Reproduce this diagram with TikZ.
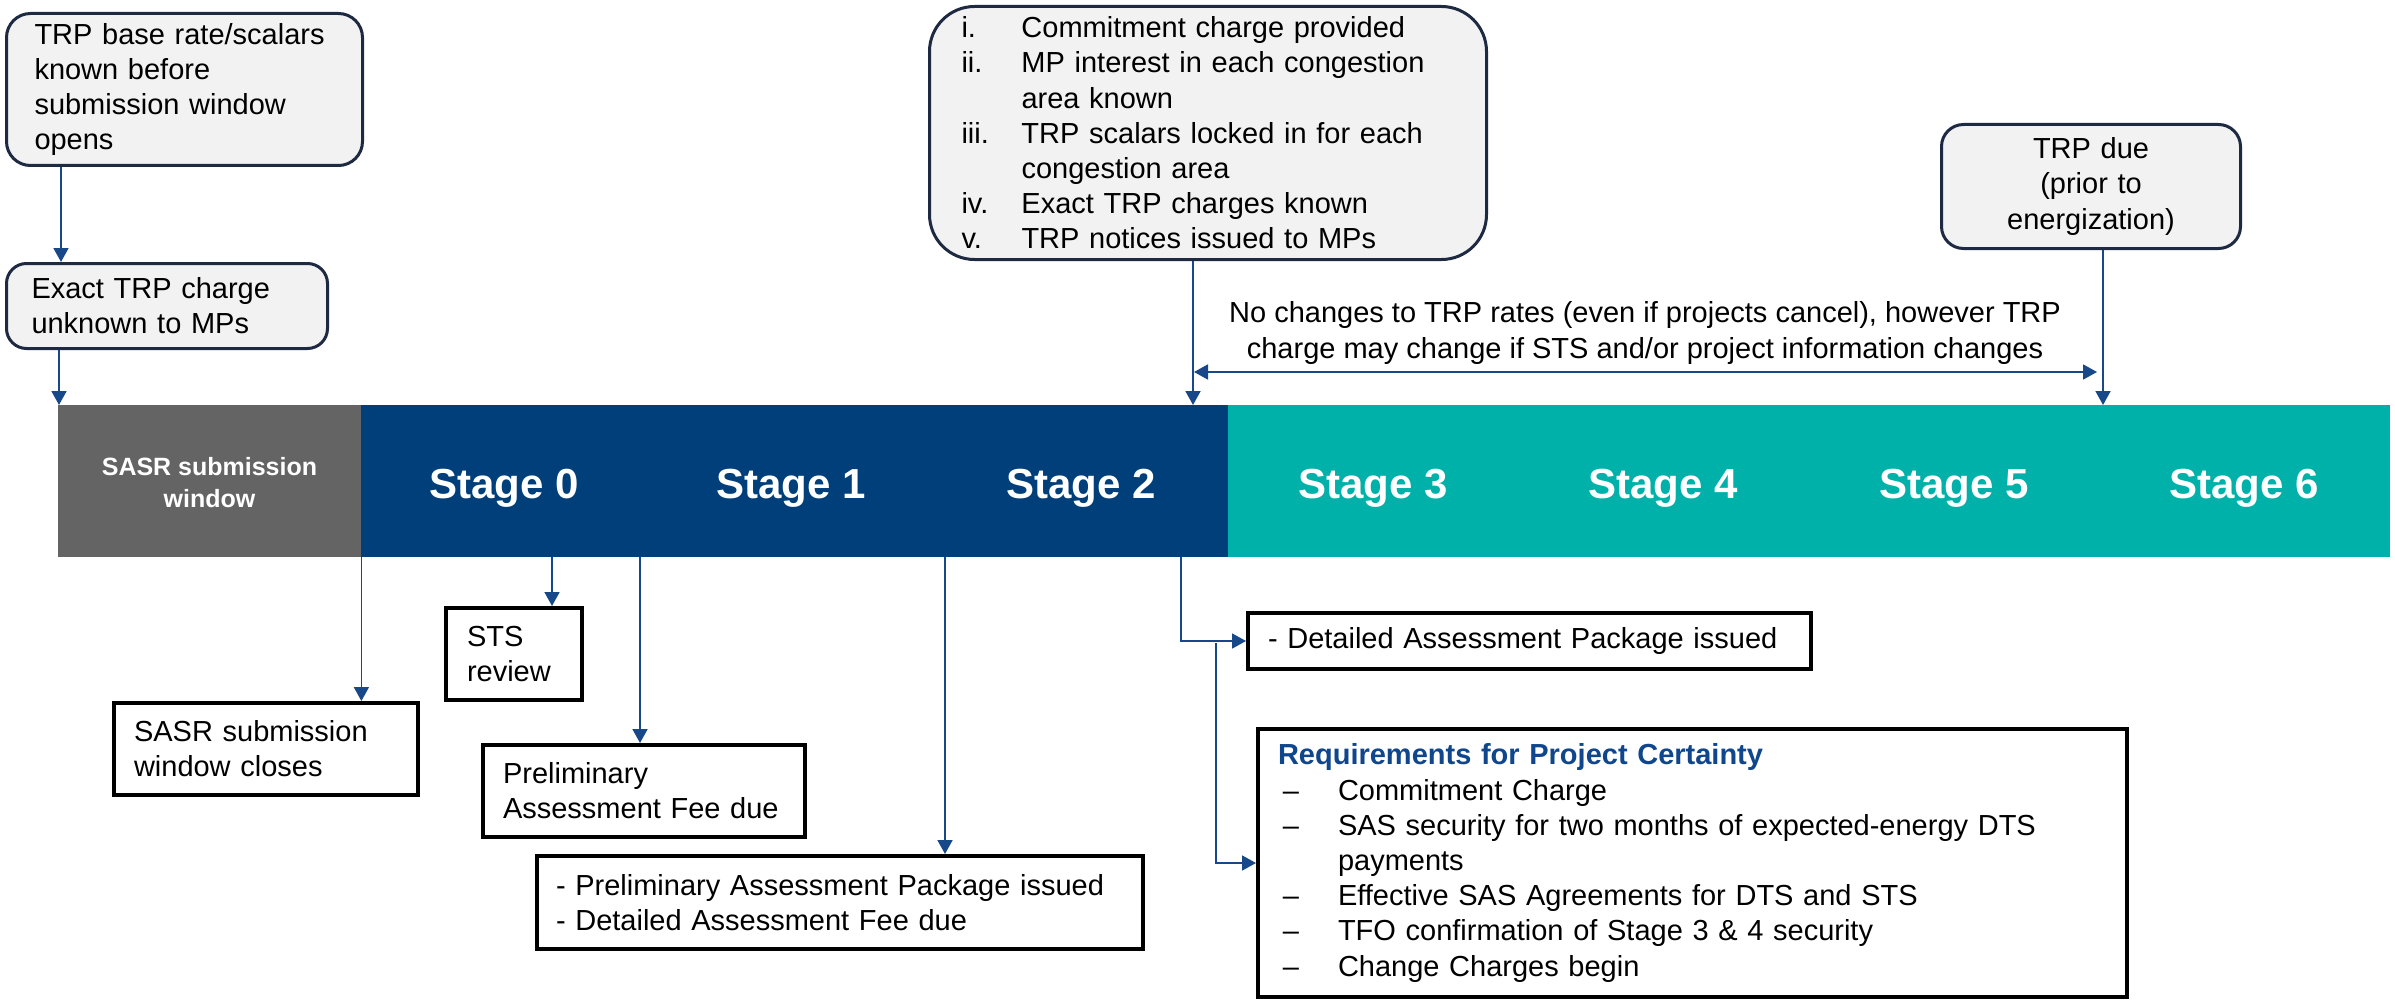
\documentclass[tikz,border=0pt]{standalone}
\usepackage{fontspec}
\setmainfont{Liberation Sans}
\usetikzlibrary{arrows.meta}

\definecolor{linkblue}{RGB}{22,72,138}
\definecolor{barblue}{RGB}{0,63,122}
\definecolor{barteal}{RGB}{0,177,170}
\definecolor{bargray}{RGB}{100,100,100}
\definecolor{notefill}{RGB}{242,242,242}
\definecolor{noteedge}{RGB}{30,42,66}
\definecolor{headblue}{RGB}{16,70,140}

\newcommand\bodysize{\fontsize{29}{35.2}\selectfont}
\newcommand\itemgap{\makebox[60pt]{}}

\tikzset{
  conn/.style={draw=linkblue, line width=1.8pt, -{Triangle[width=15pt,length=14pt]}},
  twoway/.style={draw=linkblue, line width=1.8pt,
    {Triangle[width=15pt,length=14pt]}-{Triangle[width=15pt,length=14pt]}},
  note/.style={draw=noteedge, fill=notefill, line width=3pt, rounded corners=24pt,
    font=\bodysize, inner ysep=0pt, anchor=north west},
  event/.style={draw=black, fill=white, line width=4pt, font=\bodysize,
    inner ysep=0pt, align=left, anchor=north west},
  stagebar/.style={inner sep=0pt, draw=none, anchor=north west, minimum height=152pt},
  stagelabel/.style={text=white, font=\fontsize{42}{50}\selectfont\bfseries, anchor=base},
}

\begin{document}
\begin{tikzpicture}[x=1pt,y=-1pt]
\useasboundingbox (0,0) rectangle (2395,1003);

% ---- stage bar ----
\node[stagebar, fill=bargray, minimum width=303pt] (sasr) at (58,405) {};
\node[stagebar, fill=barblue, minimum width=867pt] (early) at (361,405) {};
\node[stagebar, fill=barteal, minimum width=1162pt] (late) at (1228,405) {};

\node[text=white, font=\fontsize{25}{32}\selectfont\bfseries, align=center]
  (sasrlabel) at (209.5,483) {SASR submission\\window};
\node[stagelabel] (s0) at (504,498) {Stage 0};
\node[stagelabel] (s1) at (791,498) {Stage 1};
\node[stagelabel] (s2) at (1081,498) {Stage 2};
\node[stagelabel] (s3) at (1373,498) {Stage 3};
\node[stagelabel] (s4) at (1663,498) {Stage 4};
\node[stagelabel] (s5) at (1954,498) {Stage 5};
\node[stagelabel] (s6) at (2244,498) {Stage 6};

% ---- notes above the bar ----
\node[note, minimum width=356pt, minimum height=152pt, text width=300pt,
  inner xsep=28pt, align=left] (known) at (5,12)
  {TRP base rate/scalars\\known before\\submission window\\opens};
\node[note, minimum width=321pt, minimum height=85pt, text width=271pt,
  inner xsep=25pt, align=left, rounded corners=20pt] (unknown) at (5,262)
  {Exact TRP charge\\unknown to MPs};
\node[note, minimum width=557pt, minimum height=253pt, text width=493pt,
  inner xsep=32pt, align=left, rounded corners=45pt] (list) at (928,5)
  {\makebox[60pt][l]{i.}Commitment charge provided\\
   \makebox[60pt][l]{ii.}MP interest in each congestion\\
   \itemgap area known\\
   \makebox[60pt][l]{iii.}TRP scalars locked in for each\\
   \itemgap congestion area\\
   \makebox[60pt][l]{iv.}Exact TRP charges known\\
   \makebox[60pt][l]{v.}TRP notices issued to MPs};
\node[note, minimum width=299pt, minimum height=124pt, text width=259pt,
  inner xsep=20pt, align=center, rounded corners=22pt] (due) at (1940,123)
  {TRP due\\(prior to\\energization)};

\node[font=\bodysize, align=center] (span) at (1645,333)
  {No changes to TRP rates (even if projects cancel), however TRP\\
   charge may change if STS and/or project information changes};

% ---- events below the bar ----
\node[event, minimum width=304pt, minimum height=92pt, text width=264pt,
  inner xsep=20pt] (close) at (112,701) {SASR submission\\window closes};
\node[event, minimum width=136pt, minimum height=92pt, text width=94pt,
  inner xsep=21pt] (sts) at (444,606) {STS\\review};
\node[event, minimum width=322pt, minimum height=92pt, text width=282pt,
  inner xsep=20pt] (prelimfee) at (481,743) {Preliminary\\Assessment Fee due};
\node[event, minimum width=606pt, minimum height=93pt, text width=568pt,
  inner xsep=19pt] (pkg) at (535,854)
  {- Preliminary Assessment Package issued\\- Detailed Assessment Fee due};
\node[event, minimum width=563pt, minimum height=56pt, text width=523pt,
  inner xsep=20pt] (detailed) at (1246,611) {- Detailed Assessment Package issued};
\node[event, minimum width=869pt, minimum height=268pt, text width=829pt,
  inner xsep=20pt] (req) at (1256,727)
  {{\bfseries\color{headblue}Requirements for Project Certainty}\\
   \makebox[60pt][l]{\,–}Commitment Charge\\
   \makebox[60pt][l]{\,–}SAS security for two months of expected-energy DTS\\
   \itemgap payments\\
   \makebox[60pt][l]{\,–}Effective SAS Agreements for DTS and STS\\
   \makebox[60pt][l]{\,–}TFO confirmation of Stage 3 \& 4 security\\
   \makebox[60pt][l]{\,–}Change Charges begin};

% ---- connectors ----
\coordinate (kx) at (61,0);
\coordinate (ux) at (59,0);
\coordinate (cx) at (1193,0);
\coordinate (dx) at (2103,0);
\coordinate (spanL) at (1194,372);
\coordinate (spanR) at (2097,372);
\coordinate (stsx) at (552,0);
\coordinate (feex) at (640,0);
\coordinate (pkgx) at (945,0);
\coordinate (detx) at (1181,0);
\coordinate (branch) at (1216,643);

\draw[conn] (known.south -| kx) -- (unknown.north -| kx);
\draw[conn] (unknown.south -| ux) -- (sasr.north -| ux);
\draw[conn] (list.south -| cx) -- (early.north -| cx);
\draw[conn] (due.south -| dx) -- (late.north -| dx);
\draw[twoway] (spanL) -- (spanR);

\draw[conn] (sasr.south east) -- (close.north -| sasr.south east);
\draw[conn] (early.south -| stsx) -- (sts.north -| stsx);
\draw[conn] (early.south -| feex) -- (prelimfee.north -| feex);
\draw[conn] (early.south -| pkgx) -- (pkg.north -| pkgx);
\draw[conn] (early.south -| detx) |- (detailed.west);
\draw[conn] (branch) |- (req.west);
\end{tikzpicture}
\end{document}
